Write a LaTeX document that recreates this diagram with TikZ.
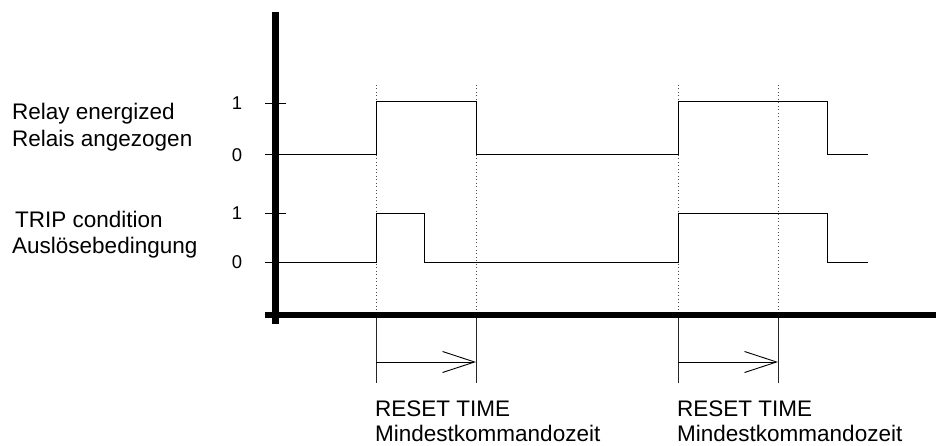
\documentclass[tikz,border=0pt]{standalone}
\usepackage{fontspec}
\setmainfont{Liberation Sans}
\usetikzlibrary{arrows.meta}
\begin{document}
\begin{tikzpicture}[x=1pt,y=-1pt,
  axisline/.style={line width=6.5pt},
  sigline/.style={line width=1pt},
  tickline/.style={line width=0.8pt},
  dotline/.style={line width=0.9pt, black!70, dash pattern=on 1pt off 2.5pt},
  markline/.style={line width=0.9pt, black!85},
  label/.style={inner sep=0pt, anchor=base west, font=\fontsize{22.5}{26}\selectfont},
  lvl/.style={inner sep=0pt, anchor=center, font=\fontsize{18.5}{20}\selectfont},
  timearrow/.style={line width=0.9pt, -{Straight Barb[length=32pt,width=21pt,line width=0.9pt]}}]
\useasboundingbox (0,0) rectangle (936,446);
% axes
\coordinate (ytop) at (275.5,12);
\coordinate (ybot) at (275.5,324);
\coordinate (xleft) at (265,315);
\coordinate (xright) at (936,315);
\draw[axisline] (ytop) -- (ybot);
\draw[axisline] (xleft) -- (xright);
% ticks
\draw[tickline] (265,103) -- (286,103);
\draw[tickline] (265,213) -- (286,213);
% level labels
\node[lvl] (r1) at (237,103) {1};
\node[lvl] (r0) at (237,155) {0};
\node[lvl] (t1) at (237,213) {1};
\node[lvl] (t0) at (237,262) {0};
% signal labels
\node[label] (relayen) at (12,120) {Relay energized};
\node[label] (relayde) at (12,147) {Relais angezogen};
\node[label] (tripen) at (15,228) {TRIP condition};
\node[label] (tripde) at (12,253) {Auslösebedingung};
% time coordinates
\coordinate (a1) at (376,0);
\coordinate (a2) at (476,0);
\coordinate (b1) at (678,0);
\coordinate (b2) at (778,0);
% dotted guide lines
\foreach \t in {a1,a2,b1,b2}{
  \draw[dotline] (\t |- 0,85) -- (\t |- 0,312);
  \draw[markline] (\t |- 0,318) -- (\t |- 0,383);
}
% relay signal
\draw[sigline] (265,155) -- (376,155) -- (376,102) -- (476,102) -- (476,155)
  -- (678,155) -- (678,102) -- (827,102) -- (827,155) -- (868,155);
% trip signal
\draw[sigline] (265,262) -- (376,262) -- (376,214) -- (424,214) -- (424,262)
  -- (678,262) -- (678,214) -- (827,214) -- (827,262) -- (868,262);
% reset time arrows
\draw[timearrow] (a1 |- 0,362) -- (a2 |- 0,362);
\draw[timearrow] (b1 |- 0,362) -- (b2 |- 0,362);
% reset time labels
\node[label] (rt1) at (375,416) {RESET TIME};
\node[label] (mk1) at (375,441) {Mindestkommandozeit};
\node[label] (rt2) at (677,416) {RESET TIME};
\node[label] (mk2) at (677,441) {Mindestkommandozeit};
\end{tikzpicture}
\end{document}
